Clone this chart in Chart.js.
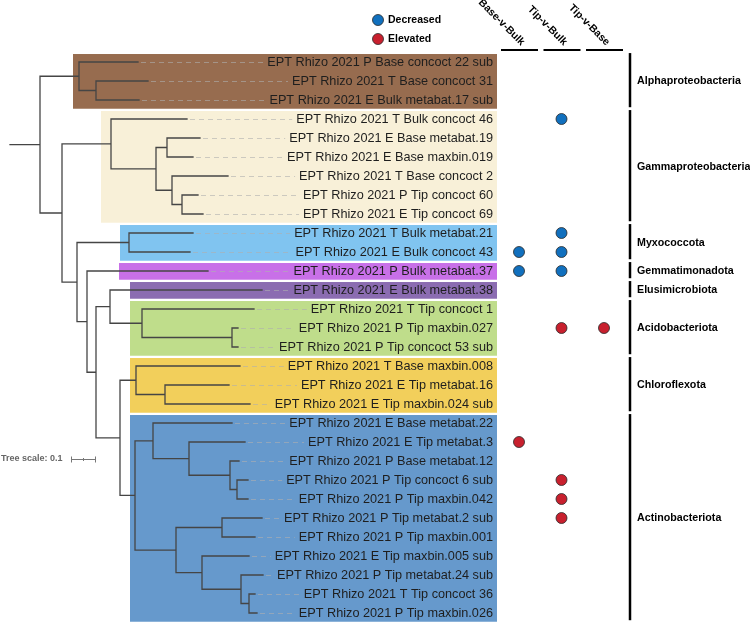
<!DOCTYPE html>
<html>
<head>
<meta charset="utf-8">
<script src="https://cdn.jsdelivr.net/npm/chart.js@4.4.1/dist/chart.umd.min.js"></script>
<style>
  html, body { margin: 0; padding: 0; background: #fff; }
  #wrap { width: 750px; height: 623px; }
</style>
</head>
<body>
<div id="wrap"><canvas id="tree" width="750" height="623"></canvas></div>
<script>
/* =========================
   DATA
========================= */
const leafNames = [
  "EPT Rhizo 2021 P Base concoct 22 sub",
  "EPT Rhizo 2021 T Base concoct 31",
  "EPT Rhizo 2021 E Bulk metabat.17 sub",
  "EPT Rhizo 2021 T Bulk concoct 46",
  "EPT Rhizo 2021 E Base metabat.19",
  "EPT Rhizo 2021 E Base maxbin.019",
  "EPT Rhizo 2021 T Base concoct 2",
  "EPT Rhizo 2021 P Tip concoct 60",
  "EPT Rhizo 2021 E Tip concoct 69",
  "EPT Rhizo 2021 T Bulk metabat.21",
  "EPT Rhizo 2021 E Bulk concoct 43",
  "EPT Rhizo 2021 P Bulk metabat.37",
  "EPT Rhizo 2021 E Bulk metabat.38",
  "EPT Rhizo 2021 T Tip concoct 1",
  "EPT Rhizo 2021 P Tip maxbin.027",
  "EPT Rhizo 2021 P Tip concoct 53 sub",
  "EPT Rhizo 2021 T Base maxbin.008",
  "EPT Rhizo 2021 E Tip metabat.16",
  "EPT Rhizo 2021 E Tip maxbin.024 sub",
  "EPT Rhizo 2021 E Base metabat.22",
  "EPT Rhizo 2021 E Tip metabat.3",
  "EPT Rhizo 2021 P Base metabat.12",
  "EPT Rhizo 2021 P Tip concoct 6 sub",
  "EPT Rhizo 2021 P Tip maxbin.042",
  "EPT Rhizo 2021 P Tip metabat.2 sub",
  "EPT Rhizo 2021 P Tip maxbin.001",
  "EPT Rhizo 2021 E Tip maxbin.005 sub",
  "EPT Rhizo 2021 P Tip metabat.24 sub",
  "EPT Rhizo 2021 T Tip concoct 36",
  "EPT Rhizo 2021 P Tip maxbin.026"
];

// tree in newick form, leaves named by their index above, branch lengths in tree units
const newickAlpha  = "(0:0.236,(1:0.208,2:0.172):0.068):0.156";
const newickGamma  = "(3:0.304,((4:0.132,5:0.104):0.044,(6:0.224,(7:0.064,8:0.084):0.04):0.064):0.18):0.196";
const newickMyxo   = "(9:0.256,10:0.244):0.208";
const newickAcido  = "(13:0.448,(14:0.024,15:0.024):0.36):0.128";
const newickChloro = "(16:0.416,(17:0.256,18:0.34):0.116):0.064";
const newickActino = "((19:0.316,(20:0.224,(21:0.036,(22:0.044,23:0.044):0.028):0.164):0.144):0.072," +
                     "((24:0.16,25:0.132):0.184,(26:0.188,(27:0.088,(28:0.024,29:0.032):0.032):0.156):0.104):0.164):0.06";
const treeNewick =
  `(${newickAlpha},(${newickGamma},(${newickMyxo},(11:0.484,((12:0.608,${newickAcido}):0.056,` +
  `(${newickChloro},${newickActino}):0.096):0.036):0.04):0.06):0.088):0.12;`;

const cladeNames  = ["Alphaproteobacteria", "Gammaproteobacteria", "Myxococcota", "Gemmatimonadota",
                     "Elusimicrobiota", "Acidobacteriota", "Chloroflexota", "Actinobacteriota"];
const cladeFirst  = [0, 3, 9, 11, 12, 13, 16, 19];
const cladeLast   = [2, 8, 10, 11, 12, 15, 18, 29];
const cladeColors = ["#976c4f", "#f8f0d8", "#80c4f0", "#c870e8", "#8b6cb1", "#bfdd8b", "#f2cf5b", "#6699cc"];

// differential abundance: [leaf index, -1 decreased / +1 elevated]
const comparisons = ["Base-v-Bulk", "Tip-v-Bulk", "Tip-v-Base"];
const baseVsBulk = [[10, -1], [11, -1], [20, 1]];
const tipVsBulk  = [[3, -1], [9, -1], [10, -1], [11, -1], [14, 1], [22, 1], [23, 1], [24, 1]];
const tipVsBase  = [[14, 1]];

const treeScaleValue = 0.1;

/* =========================
   LAYOUT / STYLE
========================= */
const FONT = "'Liberation Sans', Arial, sans-serif";
const boxStart = [0.132, 0.244, 0.32, 0.316, 0.36, 0.36, 0.36, 0.36]; // highlight left edge, tree units
const boxEnd = 1.828;
const labelRightPx = 493;
const cladeBarPx = 630;
const BLUE = "#1170be", RED = "#c8202e";

/* =========================
   NEWICK PARSE + LAYOUT
========================= */
function parseNewick(s) {
  let i = 0;
  function node() {
    const n = { children: [] };
    if (s[i] === "(") {
      i++;
      n.children.push(node());
      while (s[i] === ",") { i++; n.children.push(node()); }
      i++;
    }
    let name = "";
    while (i < s.length && !":,();".includes(s[i])) name += s[i++];
    if (name !== "") n.leaf = +name;
    n.len = 0;
    if (s[i] === ":") {
      i++;
      let num = "";
      while (i < s.length && !",();".includes(s[i])) num += s[i++];
      n.len = +num;
    }
    return n;
  }
  return node();
}

const root = parseNewick(treeNewick);
const leafTip = [];
const branchPts = [];
const gap = { x: null, y: null };

function place(n, parentX) {
  n.x = parentX + n.len;
  n.children.forEach(c => place(c, n.x));
  if (n.children.length) {
    n.y = (n.children[0].y + n.children[n.children.length - 1].y) / 2;
  } else {
    n.y = n.leaf;
    leafTip[n.leaf] = n.x;
  }
}
place(root, -root.len);

function collect(n, parentX) {
  branchPts.push({ x: parentX, y: n.y }, { x: n.x, y: n.y }, gap);
  if (n.children.length) {
    branchPts.push({ x: n.x, y: n.children[0].y }, { x: n.x, y: n.children[n.children.length - 1].y }, gap);
    n.children.forEach(c => collect(c, n.x));
  }
}
collect(root, -root.len);

/* =========================
   HEATMAP POINTS
========================= */
const decreasedPts = [], elevatedPts = [];
[baseVsBulk, tipVsBulk, tipVsBase].forEach((col, c) => {
  col.forEach(([leaf, dir]) => {
    (dir < 0 ? decreasedPts : elevatedPts).push({ x: c, y: leaf });
  });
});

/* =========================
   DECORATION PLUGIN
========================= */
const treeDecor = {
  id: "treeDecor",
  beforeDatasetsDraw(chart) {
    const { ctx, scales: { x, y } } = chart;
    ctx.save();
    // clade highlight boxes
    cladeNames.forEach((name, k) => {
      const top = y.getPixelForValue(cladeFirst[k] - 0.42);
      const bot = y.getPixelForValue(cladeLast[k] + 0.46);
      const left = x.getPixelForValue(boxStart[k]);
      const right = x.getPixelForValue(boxEnd);
      ctx.fillStyle = cladeColors[k];
      ctx.fillRect(left, top, right - left, bot - top);
    });
    // dashed leaders from tips to labels
    ctx.font = `12.7px ${FONT}`;
    ctx.strokeStyle = "rgba(175,175,175,0.6)";
    ctx.lineWidth = 1;
    ctx.setLineDash([5, 4]);
    leafNames.forEach((name, i) => {
      const w = ctx.measureText(name).width;
      const x0 = x.getPixelForValue(leafTip[i]) + 3;
      const x1 = labelRightPx - w - 4;
      if (x1 > x0) {
        const py = Math.round(y.getPixelForValue(i)) + 0.5;
        ctx.beginPath();
        ctx.moveTo(x0, py);
        ctx.lineTo(x1, py);
        ctx.stroke();
      }
    });
    ctx.restore();
  },
  afterDatasetsDraw(chart) {
    const { ctx, scales: { x, y, xh } } = chart;
    ctx.save();

    // leaf labels
    ctx.font = `12.7px ${FONT}`;
    ctx.fillStyle = "#1e1e1e";
    ctx.textAlign = "right";
    ctx.textBaseline = "middle";
    leafNames.forEach((name, i) => {
      ctx.fillText(name, labelRightPx, y.getPixelForValue(i) + 0.5);
    });

    // comparison headers
    ctx.strokeStyle = "#000";
    ctx.lineWidth = 2;
    ctx.fillStyle = "#000";
    ctx.font = `bold 10.5px ${FONT}`;
    comparisons.forEach((label, c) => {
      const px = xh.getPixelForValue(c);
      ctx.beginPath();
      ctx.moveTo(px - 18, 50);
      ctx.lineTo(px + 19, 50);
      ctx.stroke();
      ctx.save();
      ctx.translate(px + 2, 46);
      ctx.rotate(Math.PI / 4);
      ctx.textAlign = "right";
      ctx.textBaseline = "alphabetic";
      ctx.fillText(label, 0, 0);
      ctx.restore();
    });

    // clade bars and names
    ctx.lineWidth = 2.5;
    ctx.font = `bold 10.7px ${FONT}`;
    ctx.textAlign = "left";
    ctx.textBaseline = "middle";
    cladeNames.forEach((name, k) => {
      const top = y.getPixelForValue(cladeFirst[k] - 0.47);
      const bot = y.getPixelForValue(cladeLast[k] + 0.38);
      ctx.beginPath();
      ctx.moveTo(cladeBarPx, top);
      ctx.lineTo(cladeBarPx, bot);
      ctx.stroke();
      ctx.fillText(name, cladeBarPx + 7, (top + bot) / 2 + 1);
    });

    // legend
    ctx.font = `bold 10.5px ${FONT}`;
    [["Decreased", BLUE, 20], ["Elevated", RED, 39]].forEach(([t, col, py]) => {
      ctx.beginPath();
      ctx.arc(378, py, 5.5, 0, Math.PI * 2);
      ctx.fillStyle = col;
      ctx.fill();
      ctx.lineWidth = 0.8;
      ctx.strokeStyle = "#2a2a2a";
      ctx.stroke();
      ctx.fillStyle = "#000";
      ctx.fillText(t, 388, py + 0.5);
    });

    // tree scale
    ctx.fillStyle = "#666";
    ctx.font = `bold 9px ${FONT}`;
    ctx.fillText("Tree scale: " + treeScaleValue, 1, 459);
    const sx0 = 71;
    const sx1 = sx0 + (x.getPixelForValue(treeScaleValue) - x.getPixelForValue(0));
    ctx.strokeStyle = "#777";
    ctx.lineWidth = 1;
    ctx.beginPath();
    ctx.moveTo(sx0, 459.5); ctx.lineTo(sx1, 459.5);
    ctx.moveTo(sx0 + 0.5, 456.5); ctx.lineTo(sx0 + 0.5, 462.5);
    ctx.moveTo(sx1 - 0.5, 456.5); ctx.lineTo(sx1 - 0.5, 462.5);
    ctx.moveTo((sx0 + sx1) / 2, 458); ctx.lineTo((sx0 + sx1) / 2, 461);
    ctx.stroke();

    ctx.restore();
  }
};

/* =========================
   CHART
========================= */
new Chart(document.getElementById("tree"), {
  type: "scatter",
  data: {
    datasets: [
      {
        label: "Decreased",
        data: decreasedPts,
        xAxisID: "xh",
        pointRadius: 5.5,
        pointBackgroundColor: BLUE,
        pointBorderColor: "#2a2a2a",
        pointBorderWidth: 0.8
      },
      {
        label: "Elevated",
        data: elevatedPts,
        xAxisID: "xh",
        pointRadius: 5.5,
        pointBackgroundColor: RED,
        pointBorderColor: "#2a2a2a",
        pointBorderWidth: 0.8
      },
      {
        label: "branches",
        data: branchPts,
        showLine: true,
        spanGaps: false,
        borderColor: "#454545",
        borderWidth: 1.3,
        borderCapStyle: "square",
        pointRadius: 0,
        pointHoverRadius: 0
      }
    ]
  },
  options: {
    responsive: false,
    animation: false,
    events: [],
    layout: { padding: 0, autoPadding: false },
    plugins: { legend: { display: false }, tooltip: { enabled: false } },
    scales: {
      x:  { type: "linear", min: -0.16, max: 2.84, display: false },
      xh: { type: "linear", axis: "x", min: -519 / 42.5, max: 231 / 42.5, display: false },
      y:  { type: "linear", min: -62 / 19, max: 561 / 19, reverse: true, display: false }
    }
  },
  plugins: [treeDecor]
});
</script>
</body>
</html>
